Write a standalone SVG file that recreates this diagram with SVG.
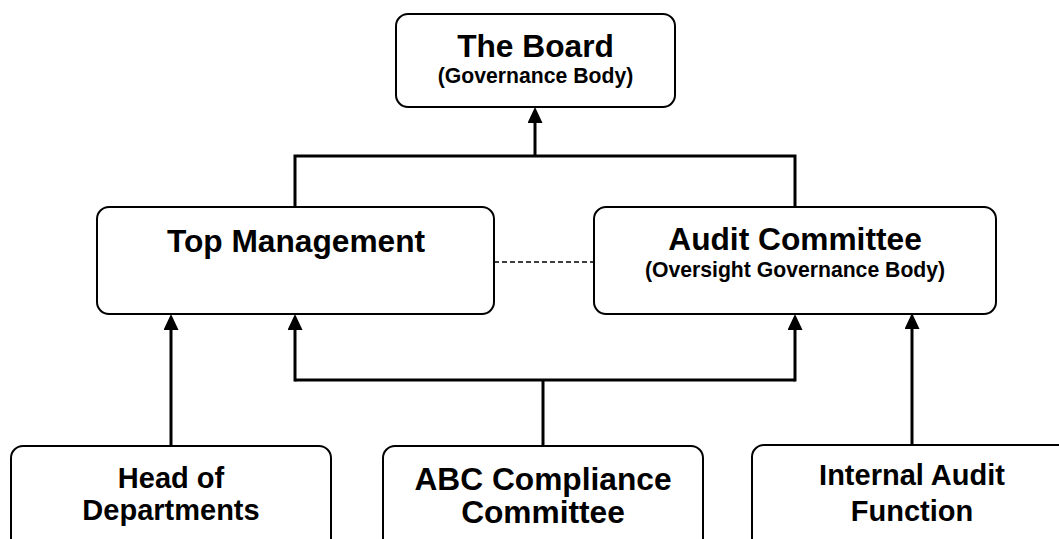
<svg xmlns="http://www.w3.org/2000/svg" width="1059" height="539" viewBox="0 0 1059 539">
<style>
.box{fill:#fff;stroke:#000;stroke-width:2}
.t{font-family:"Liberation Sans",Arial,sans-serif;font-weight:bold;fill:#000;text-anchor:middle}
.big{font-size:31.7px}
.mid{font-size:29px}
.sub{font-size:21.2px}
.ln{fill:none;stroke:#000;stroke-width:3}
.dash{fill:none;stroke:#000;stroke-width:1.3;stroke-dasharray:5 3}
</style>
<defs>
<marker id="arr" viewBox="0 0 16 15" refX="0" refY="7.5" markerWidth="16" markerHeight="15" markerUnits="userSpaceOnUse" orient="auto">
<path d="M0,0 L16,7.5 L0,15 z" fill="#000"/>
</marker>
</defs>
<rect width="1059" height="539" fill="#fff"/>
<g id="connectors">
<path class="ln" d="M295,207 V156 H795 V207"/>
<path class="ln" d="M535,156 V123" marker-end="url(#arr)"/>
<path class="ln" d="M543,446 V380"/>
<path class="ln" d="M295,380 H795"/>
<path class="ln" d="M295,381.5 V330" marker-end="url(#arr)"/>
<path class="ln" d="M795,381.5 V330" marker-end="url(#arr)"/>
<path class="ln" d="M171,446 V330" marker-end="url(#arr)"/>
<path class="ln" d="M912,445 V329" marker-end="url(#arr)"/>
<path class="dash" d="M494,262 H594"/>
</g>
<g id="board">
<rect class="box" x="396" y="14" width="279" height="93" rx="12"/>
<text class="t big" x="535.5" y="56.5">The Board</text>
<text class="t sub" x="535.5" y="83">(Governance Body)</text>
</g>
<g id="top-management">
<rect class="box" x="97" y="207" width="397" height="107" rx="12"/>
<text class="t big" x="296" y="252">Top Management</text>
</g>
<g id="audit-committee">
<rect class="box" x="594" y="207" width="402" height="107" rx="12"/>
<text class="t big" x="795" y="250">Audit Committee</text>
<text class="t sub" x="795" y="277">(Oversight Governance Body)</text>
</g>
<g id="head-of-departments">
<rect class="box" x="11" y="446" width="320" height="120" rx="12"/>
<text class="t mid" x="171" y="488">Head of</text>
<text class="t mid" x="171" y="520">Departments</text>
</g>
<g id="abc-compliance-committee">
<rect class="box" x="383" y="446" width="320" height="120" rx="12"/>
<text class="t big" x="543" y="490">ABC Compliance</text>
<text class="t big" x="543" y="523">Committee</text>
</g>
<g id="internal-audit-function">
<rect class="box" x="752" y="445" width="320" height="120" rx="12"/>
<text class="t mid" x="912" y="485">Internal Audit</text>
<text class="t mid" x="912" y="521">Function</text>
</g>
</svg>
